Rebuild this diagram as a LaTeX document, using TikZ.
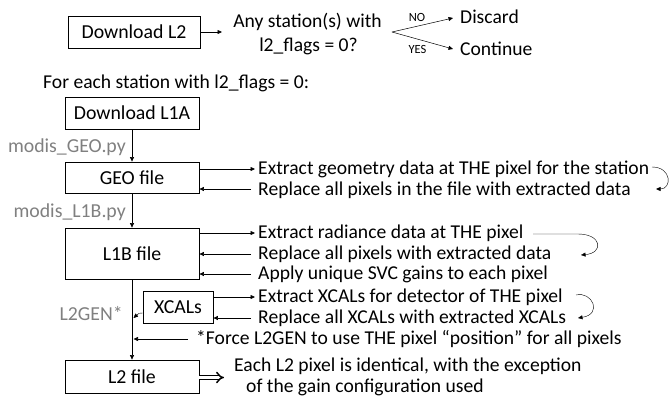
\documentclass[tikz,border=0pt]{standalone}
\usepackage{fontspec}
\setmainfont{Carlito}
\usetikzlibrary{arrows.meta}
\definecolor{labgray}{RGB}{128,128,128}
\begin{document}
\begin{tikzpicture}[x=1pt,y=-1pt,
  box/.style={draw,line width=0.8pt,inner sep=0pt,font=\fontsize{19.8}{22}\selectfont},
  conn/.style={line width=0.6pt,-{Triangle[length=4.5pt,width=4pt]}},
  txt/.style={inner sep=0pt,anchor=base west,font=\fontsize{19.6}{22}\selectfont},
  toptxt/.style={inner sep=0pt,font=\fontsize{19.6}{22}\selectfont},
  glab/.style={inner sep=0pt,anchor=base east,text=labgray,font=\fontsize{19.8}{22}\selectfont},
  small/.style={inner sep=0pt,font=\fontsize{12.5}{14}\selectfont}]
\useasboundingbox (0,0) rectangle (669,405);

% top row
\node[box,minimum width=132pt,minimum height=32pt] (dl2) at (134,32) {Download L2};
\coordinate (qin) at (222,32);
\draw[conn] (dl2.east |- qin) -- (qin);
\node[toptxt,anchor=base] (q1) at (307.5,27) {Any station(s) with};
\node[toptxt,anchor=base] (q2) at (308.5,51) {l2\_flags = 0?};
\coordinate (fork) at (392,32);
\coordinate (notip) at (453,18);
\coordinate (yestip) at (453,49);
\draw[conn,line width=0.5pt] (fork) -- (notip);
\draw[conn,line width=0.5pt] (fork) -- (yestip);
\node[small] (no) at (417,17) {NO};
\node[small] (yes) at (417.5,49) {YES};
\node[toptxt,anchor=base west] (disc) at (460,23) {Discard};
\node[toptxt,anchor=base west] (cont) at (460,55) {Continue};

\node[toptxt,anchor=base west] (foreach) at (43,88) {For each station with l2\_flags = 0:};

% chain
\node[box,minimum width=134pt,minimum height=32pt] (dl1a) at (132,113) {Download L1A};
\node[box,minimum width=134pt,minimum height=31pt] (geo) at (132,177.5) {GEO file};
\node[box,minimum width=134pt,minimum height=51pt] (l1b) at (132,253.5) {L1B file};
\node[box,minimum width=70pt,minimum height=32pt] (xcals) at (178,307) {XCALs};
\node[box,minimum width=134pt,minimum height=33pt] (l2) at (132,376.5) {L2 file};

\draw[conn] (dl1a.south) -- (geo.north);
\draw[conn] (geo.south) -- (l1b.north);
\draw[conn] (l1b.south) -- (l2.north);

\node[glab] (mgeo) at (126,152.5) {modis\_GEO.py};
\node[glab] (ml1b) at (126,217.5) {modis\_L1B.py};
\node[glab] (l2gen) at (123,320) {L2GEN*};

% GEO side
\node[txt] (g1) at (258,174.5) {Extract geometry data at THE pixel for the station};
\node[txt] (g2) at (258,195) {Replace all pixels in the file with extracted data};
\coordinate (g1a) at (255,169);
\coordinate (g2a) at (251,189);
\draw[conn] (geo.east |- g1a) -- (g1a);
\draw[conn] (g2a) -- (geo.east |- g2a);
\coordinate (gc1) at (652,167);
\coordinate (gc2) at (656,189);
\draw[conn,line width=0.4pt] (gc1) .. controls (672,167) and (672,189) .. (gc2);

% L1B side
\node[txt] (b1) at (258,238.5) {Extract radiance data at THE pixel};
\node[txt] (b2) at (258,259.5) {Replace all pixels with extracted data};
\node[txt] (b3) at (258,279.5) {Apply unique SVC gains to each pixel};
\coordinate (b1a) at (255,233);
\coordinate (b2a) at (251,254);
\coordinate (b3a) at (251,274);
\draw[conn] (l1b.east |- b1a) -- (b1a);
\draw[conn] (b2a) -- (l1b.east |- b2a);
\draw[conn] (b3a) -- (l1b.east |- b3a);
\coordinate (bc1) at (533,234);
\coordinate (bc2) at (581,255);
\draw[conn,line width=0.4pt] (bc1) -- (578,234) .. controls (602,234) and (604,253) .. (bc2);

% XCALs side
\node[txt] (x1) at (258,302.5) {Extract XCALs for detector of THE pixel};
\node[txt] (x2) at (258,323.5) {Replace all XCALs with extracted XCALs};
\coordinate (x1a) at (255,297);
\coordinate (x2a) at (251,318);
\draw[conn] (xcals.east |- x1a) -- (x1a);
\draw[conn] (x2a) -- (xcals.east |- x2a);
\coordinate (xc1) at (576,295);
\coordinate (xc2) at (578,318);
\draw[conn,line width=0.4pt] (xc1) .. controls (592,291) and (603,314) .. (xc2);
\coordinate (xl) at (133.5,318);
\draw[conn,line width=0.4pt] (xcals.west |- 0,313) .. controls (139,313) .. (xl);

% force
\node[txt] (force) at (196,344.5) {*Force L2GEN to use THE pixel “position” for all pixels};
\coordinate (fa) at (188,339);
\coordinate (fb) at (133.5,339);
\draw[conn] (fa) -- (fb);

% L2 result
\coordinate (res) at (224,377.5);
\draw[line width=1.5pt,double distance=2.3pt,-{Implies[length=6pt,width=13pt]}] (l2.east |- res) -- (res);
\node[txt] (e1) at (234,371) {Each L2 pixel is identical, with the exception};
\node[txt] (e2) at (246,392.5) {of the gain configuration used};
\end{tikzpicture}
\end{document}
